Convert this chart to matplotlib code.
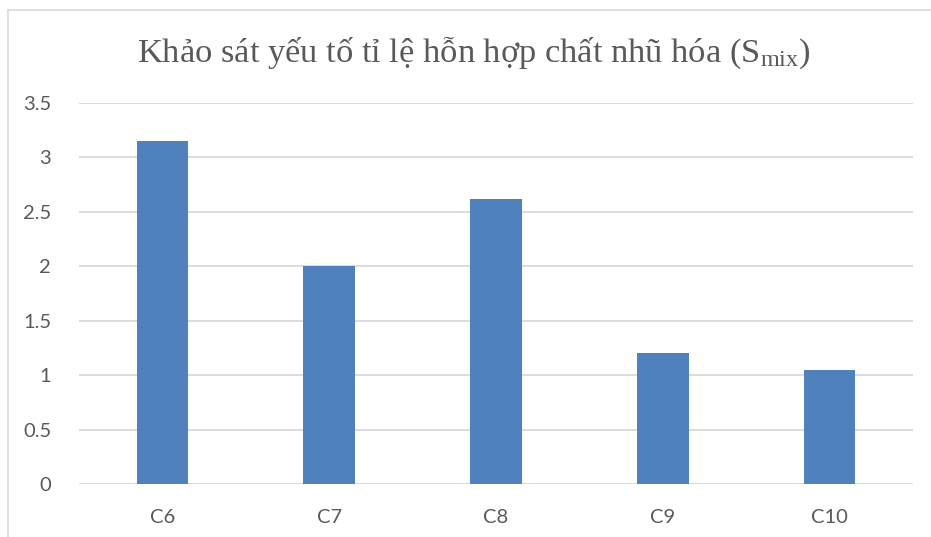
import matplotlib
matplotlib.use("Agg")
import matplotlib.pyplot as plt
from matplotlib.lines import Line2D

categories = ["C6", "C7", "C8", "C9", "C10"]
values = [3.15, 2.0, 2.62, 1.2, 1.05]
yticks = [0, 0.5, 1, 1.5, 2, 2.5, 3, 3.5]
ytick_labels = ["0", "0.5", "1", "1.5", "2", "2.5", "3", "3.5"]
title = "Khảo sát yếu tố tỉ lệ hỗn hợp chất nhũ hóa (S$_{\\mathrm{mix}}$)"

plt.rcParams['mathtext.fontset'] = 'custom'
plt.rcParams['mathtext.rm'] = 'Liberation Serif'
plt.rcParams['mathtext.it'] = 'Liberation Serif'

W, H = 931, 537
fig = plt.figure(figsize=(W / 100, H / 100), dpi=100)
ax = fig.add_axes([79 / W, 1 - 484 / H, (913 - 79) / W, (484 - 103) / H])

x = list(range(len(categories)))
ax.bar(x, values, width=0.31, color="#4F81BD", zorder=3)
ax.set_xlim(-0.5, len(categories) - 0.5)
ax.set_ylim(0, 3.5)
ax.set_yticks(yticks)
ax.set_yticklabels(ytick_labels)
ax.set_xticks(x)
ax.set_xticklabels(categories)
ax.yaxis.grid(True, color="#D9D9D9", linewidth=1.3, zorder=0)
for s in ax.spines.values():
    s.set_visible(False)
ax.tick_params(axis="both", length=0, labelsize=14.5, colors="#595959")
ax.tick_params(axis="y", pad=20)
ax.tick_params(axis="x", pad=18)
for lbl in ax.get_xticklabels() + ax.get_yticklabels():
    lbl.set_fontfamily("Lato")
ax.axhline(0, color="#D9D9D9", linewidth=1.3, zorder=2)

fig.text(474 / W, 1 - 53 / H, title, ha="center", va="center",
         fontsize=24.8, family="Liberation Serif", color="#595959")

fig.add_artist(Line2D([8 / W, 8 / W], [0, 1 - 10 / H], color="#D9D9D9", linewidth=1.2,
                      transform=fig.transFigure))
fig.add_artist(Line2D([8 / W, 1], [1 - 10 / H, 1 - 10 / H], color="#D9D9D9", linewidth=1.2,
                      transform=fig.transFigure))

fig.savefig("out.png", dpi=100, facecolor="white")
